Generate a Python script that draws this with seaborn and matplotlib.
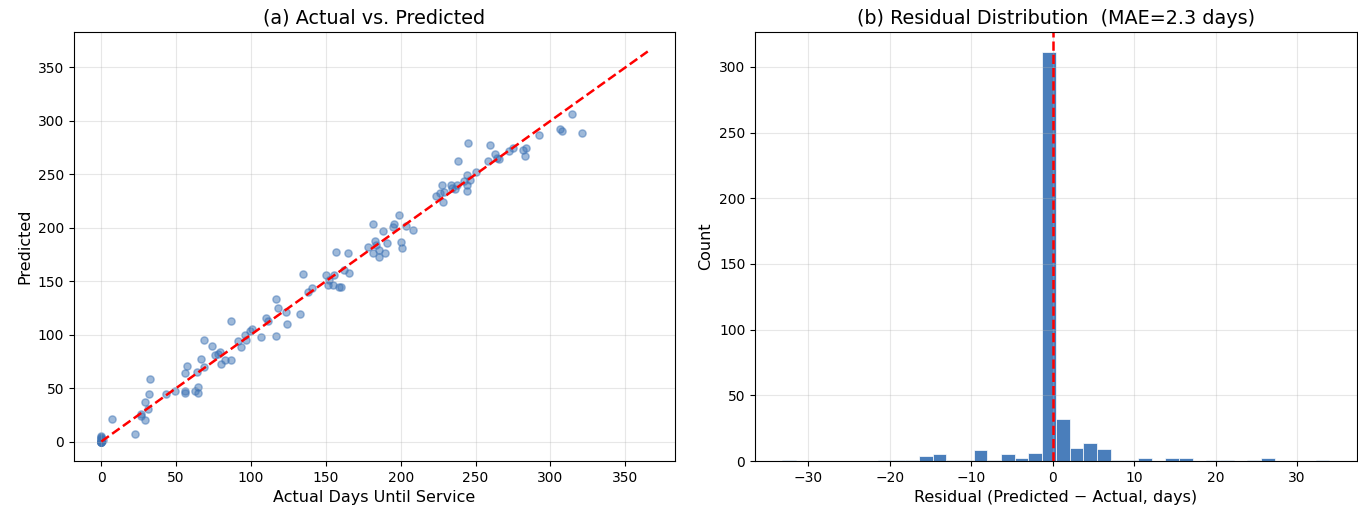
import numpy as np
import pandas as pd
import matplotlib
matplotlib.use("Agg")
import matplotlib.pyplot as plt
import seaborn as sns

# ---- scatter sample: actual vs. predicted days until service ----
actual_days = [
    0, 0, 0, 0, 0, 0, 0, 0, 0, 0, 0, 1,
    7.3, 22.4, 26.2, 26.8, 29.5, 31.3, 29.1, 31.7, 32.2, 43.2, 49.5, 55.7,
    55.7, 62.3, 64.5, 64.5, 56.1, 57.0, 63.7, 66.7, 68.5, 68.5, 74.1, 75.6,
    77.8, 79.6, 80.0, 82.3, 86.7, 91.0, 86.9, 93.0, 96.3, 96.9, 99.1, 100.9,
    106.9, 109.8, 111.3, 116.4, 116.4, 118.0, 123.5, 124.2, 132.9, 134.6, 138.2, 140.4,
    150.4, 151.3, 151.9, 154.6, 155.7, 158.5, 160.1, 162.3, 165.7, 156.8, 164.5, 178.3,
    181.2, 183.0, 183.4, 185.2, 185.2, 189.6, 190.5, 188.3, 181.6, 194.5, 195.6, 198.9,
    200.1, 201.1, 203.4, 208.2, 223.5, 226.0, 227.8, 228.4, 228.9, 233.3, 234.4, 236.2,
    237.7, 242.2, 244.0, 244.4, 244.0, 246.6, 250.4, 238.4, 244.8, 258.2, 259.9, 262.8,
    264.3, 265.9, 272.1, 274.8, 281.4, 283.2, 283.9, 292.5, 306.5, 308.0, 314.2, 320.9,
]
predicted_days = [
    0, 0, 0, 0, 0, 0, 1, 2, 3, 4, 5, 1,
    20.9, 6.6, 26.0, 23.5, 19.7, 30.7, 36.9, 44.7, 58.5, 44.7, 47.2, 45.3,
    47.2, 47.2, 45.3, 50.9, 64.4, 70.4, 65.4, 76.9, 69.7, 94.7, 89.4, 80.7,
    82.3, 84.1, 72.9, 76.0, 76.0, 93.8, 112.6, 88.2, 100.1, 95.1, 103.8, 105.1,
    97.6, 115.7, 113.2, 98.8, 133.2, 124.5, 121.3, 110.4, 119.1, 156.7, 139.5, 143.2,
    156.0, 146.3, 151.0, 146.3, 155.7, 144.8, 144.8, 160.4, 157.3, 177.6, 176.1, 182.4,
    176.1, 187.9, 183.9, 179.2, 172.9, 176.1, 185.5, 197.3, 203.3, 200.5, 203.3, 212.0,
    187.0, 180.8, 201.7, 197.9, 229.8, 232.9, 240.2, 224.5, 233.9, 240.2, 237.1, 236.1,
    240.2, 243.9, 249.5, 240.2, 234.5, 244.8, 252.0, 262.9, 278.9, 262.9, 277.0, 268.9,
    265.2, 264.5, 271.4, 275.1, 273.2, 267.3, 275.1, 286.8, 292.0, 290.8, 306.5, 288.3,
]
# the reference diagonal runs over the full range of days
diag_range = [0, 365]

# ---- residual histogram (predicted - actual, days) ----
resid_min, resid_max, n_bins = -33.2, 33.95, 40
resid_counts = [
    1, 0, 0, 0, 0, 0, 0, 1, 1, 1,
    4, 5, 1, 1, 8, 1, 5, 2, 6, 311,
    32, 10, 14, 9, 1, 1, 2, 0, 2, 2,
    0, 1, 1, 0, 1, 2, 0, 0, 0, 1,
]
mae_days = 2.3

bin_width = (resid_max - resid_min) / n_bins
bin_centers = resid_min + bin_width * (np.arange(n_bins) + 0.5)
hist_df = pd.DataFrame({"residual": bin_centers, "count": resid_counts})

point_color = "#3f74b5"
bar_color = "#4a7ebb"

plt.rcParams["font.family"] = ["DejaVu Sans"]
fig = plt.figure(figsize=(13.58, 5.12), dpi=100)
ax1 = fig.add_axes([0.0545, 0.0996, 0.4426, 0.838])
ax2 = fig.add_axes([0.556, 0.0996, 0.4430, 0.838])

# (a) actual vs predicted
sns.scatterplot(x=actual_days, y=predicted_days, ax=ax1, color=point_color,
                alpha=0.5, s=27, edgecolor=point_color, linewidth=1.0)
ax1.plot(diag_range, diag_range, color="red", linestyle="--", linewidth=1.8)
ax1.set_title("(a) Actual vs. Predicted", fontsize=13.8)
ax1.set_xlabel("Actual Days Until Service", fontsize=11.5)
ax1.set_ylabel("Predicted", fontsize=11.5)
ax1.grid(True, alpha=0.3)
ax1.set_xticks(range(0, 351, 50))
ax1.set_yticks(range(0, 351, 50))

# (b) residual distribution
sns.histplot(data=hist_df, x="residual", weights="count", bins=n_bins,
             binrange=(resid_min, resid_max), ax=ax2,
             color=bar_color, alpha=1.0, edgecolor="white", linewidth=0.5)
ax2.axvline(0, color="red", linestyle="--", linewidth=1.8)
ax2.set_title(f"(b) Residual Distribution  (MAE={mae_days} days)", fontsize=13.8)
ax2.set_xlabel("Residual (Predicted \u2212 Actual, days)", fontsize=11.5)
ax2.set_ylabel("Count", fontsize=11.5)
ax2.grid(True, alpha=0.3)

for ax in (ax1, ax2):
    ax.tick_params(labelsize=10)

fig.savefig("out.png", dpi=100)
